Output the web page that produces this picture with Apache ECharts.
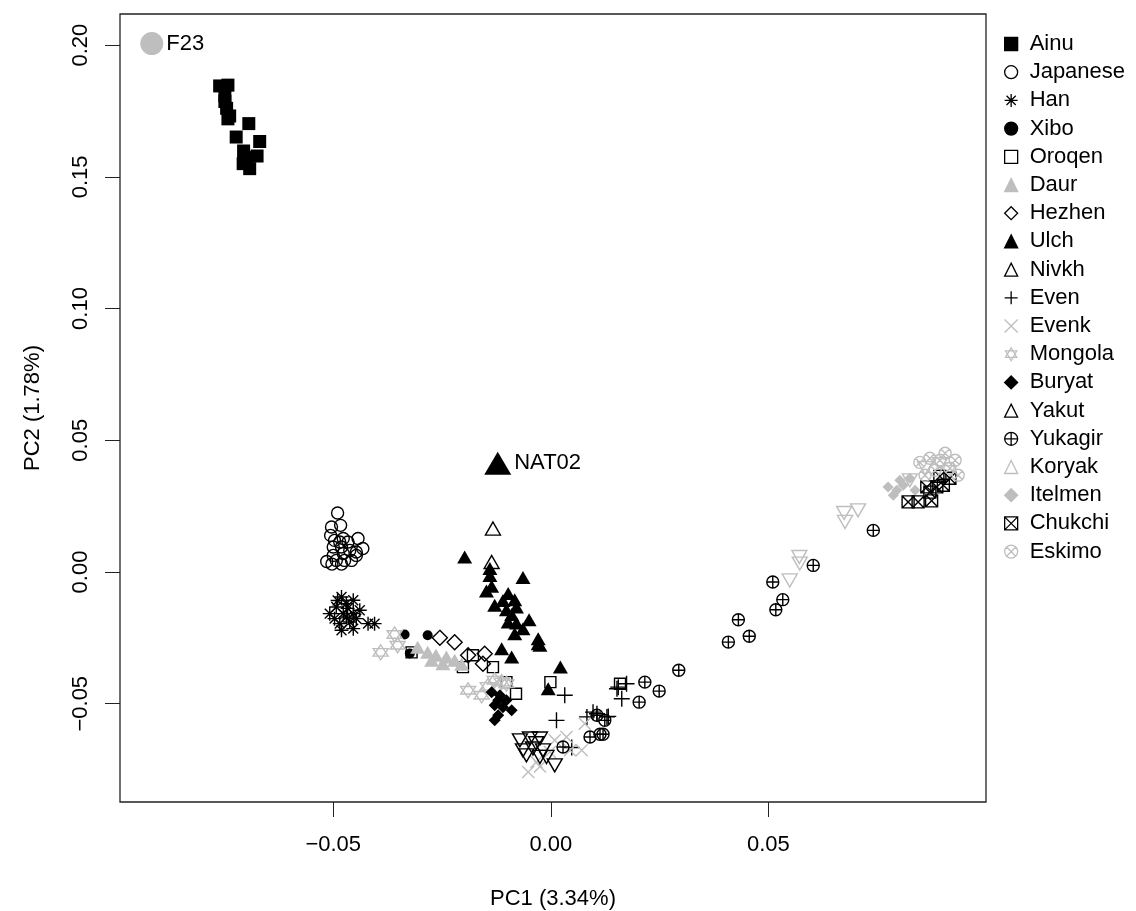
<!DOCTYPE html>
<html>
<head>
<meta charset="utf-8">
<title>PCA</title>
<script src="https://cdn.jsdelivr.net/npm/echarts@6.0.0/dist/echarts.min.js"></script>
<style>
  html, body { margin: 0; padding: 0; background: #fff; }
  #pca { width: 1136px; height: 911px; }
</style>
</head>
<body>
<div id="pca"></div>
<script>
// PC1 / PC2 per population
var ainu = [[-0.0761,0.1845],[-0.0742,0.1848],[-0.0749,0.1807],[-0.0749,0.1786],[-0.0745,0.1760],[-0.0738,0.1731],[-0.0742,0.1720],[-0.0694,0.1702],[-0.0723,0.1651],[-0.0669,0.1634],[-0.0706,0.1598],[-0.0703,0.1573],[-0.0675,0.1579],[-0.0707,0.1550],[-0.0692,0.1531],[-0.0700,0.1560]];
var japanese = [[-0.0490,0.0224],[-0.0504,0.0171],[-0.0483,0.0177],[-0.0506,0.0139],[-0.0497,0.0120],[-0.0477,0.0127],[-0.0443,0.0127],[-0.0432,0.0089],[-0.0447,0.0076],[-0.0462,0.0082],[-0.0481,0.0095],[-0.0500,0.0095],[-0.0515,0.0040],[-0.0493,0.0044],[-0.0474,0.0044],[-0.0458,0.0044],[-0.0447,0.0063],[-0.0500,0.0063],[-0.0477,0.0070],[-0.0466,0.0114],[-0.0485,0.0114],[-0.0503,0.0030],[-0.0481,0.0030]];
var han = [[-0.0481,-0.0095],[-0.0508,-0.0158],[-0.0493,-0.0133],[-0.0470,-0.0120],[-0.0454,-0.0107],[-0.0477,-0.0158],[-0.0454,-0.0158],[-0.0439,-0.0145],[-0.0485,-0.0196],[-0.0462,-0.0190],[-0.0481,-0.0221],[-0.0454,-0.0215],[-0.0420,-0.0196],[-0.0405,-0.0196],[-0.0447,-0.0177],[-0.0497,-0.0177],[-0.0470,-0.0171],[-0.0490,-0.0108],[-0.0467,-0.0138]];
var xibo = [[-0.0336,-0.0237],[-0.0283,-0.0240],[-0.0324,-0.0309]];
var oroqen = [[-0.0320,-0.0305],[-0.0202,-0.0361],[-0.0179,-0.0316],[-0.0133,-0.0361],[-0.0102,-0.0418],[-0.0080,-0.0462],[-0.0001,-0.0418],[0.0159,-0.0424]];
var daur = [[-0.0306,-0.0286],[-0.0283,-0.0305],[-0.0264,-0.0316],[-0.0240,-0.0323],[-0.0221,-0.0335],[-0.0248,-0.0348],[-0.0274,-0.0335],[-0.0205,-0.0350]];
var hezhen = [[-0.0255,-0.0250],[-0.0221,-0.0267],[-0.0190,-0.0316],[-0.0152,-0.0310],[-0.0156,-0.0348]];
var ulch = [[-0.0198,0.0057],[-0.0140,0.0013],[-0.0140,-0.0013],[-0.0064,-0.0021],[-0.0148,-0.0072],[-0.0136,-0.0054],[-0.0098,-0.0082],[-0.0083,-0.0105],[-0.0110,-0.0108],[-0.0129,-0.0126],[-0.0102,-0.0143],[-0.0079,-0.0133],[-0.0090,-0.0161],[-0.0098,-0.0190],[-0.0079,-0.0194],[-0.0050,-0.0181],[-0.0083,-0.0234],[-0.0064,-0.0215],[-0.0029,-0.0253],[-0.0025,-0.0278],[-0.0113,-0.0291],[-0.0090,-0.0323],[-0.0029,-0.0272],[0.0022,-0.0361],[-0.0006,-0.0443]];
var nivkh = [[-0.0133,0.0165],[-0.0136,0.0038]];
var even = [[0.0032,-0.0468],[0.0013,-0.0563],[0.0155,-0.0437],[0.0174,-0.0424],[0.0163,-0.0481],[0.0083,-0.0550],[0.0106,-0.0538],[0.0129,-0.0550],[0.0048,-0.0666],[0.0152,-0.0443],[0.0097,-0.0532],[0.0132,-0.0548]];
var evenk = [[-0.0052,-0.0759],[-0.0033,-0.0721],[0.0009,-0.0639],[0.0036,-0.0626],[0.0078,-0.0576],[-0.0002,-0.0683],[0.0044,-0.0677],[0.0071,-0.0677],[-0.0025,-0.0738]];
var mongola = [[-0.0391,-0.0305],[-0.0359,-0.0237],[-0.0352,-0.0278],[-0.0190,-0.0449],[-0.0159,-0.0468],[-0.0129,-0.0411],[-0.0113,-0.0418],[-0.0102,-0.0424],[-0.0145,-0.0434]];
var buryat = [[-0.0136,-0.0456],[-0.0121,-0.0487],[-0.0129,-0.0506],[-0.0110,-0.0513],[-0.0090,-0.0525],[-0.0121,-0.0544],[-0.0129,-0.0563],[-0.0102,-0.0487],[-0.0117,-0.0468]];
var yakut = [[-0.0071,-0.0639],[-0.0048,-0.0632],[-0.0025,-0.0632],[-0.0064,-0.0677],[-0.0041,-0.0670],[-0.0018,-0.0677],[-0.0056,-0.0696],[-0.0025,-0.0702],[-0.0010,-0.0702],[0.0009,-0.0734],[-0.0034,-0.0650]];
var yukagir = [[0.0106,-0.0544],[0.0124,-0.0563],[0.0090,-0.0626],[0.0113,-0.0616],[0.0120,-0.0616],[0.0028,-0.0664],[0.0203,-0.0494],[0.0216,-0.0418],[0.0249,-0.0452],[0.0294,-0.0373],[0.0408,-0.0266],[0.0456,-0.0244],[0.0431,-0.0181],[0.0517,-0.0143],[0.0533,-0.0105],[0.0510,-0.0038],[0.0603,0.0025],[0.0741,0.0158]];
var koryak = [[0.0549,-0.0032],[0.0571,0.0057],[0.0572,0.0032],[0.0674,0.0224],[0.0676,0.0190],[0.0706,0.0234],[0.0825,0.0348],[0.0860,0.0394],[0.0894,0.0409],[0.0913,0.0379]];
var itelmen = [[0.0775,0.0323],[0.0795,0.0310],[0.0810,0.0329],[0.0787,0.0291],[0.0825,0.0356],[0.0802,0.0348],[0.0837,0.0310]];
var chukchi = [[0.0821,0.0266],[0.0844,0.0266],[0.0875,0.0270],[0.0864,0.0323],[0.0887,0.0323],[0.0902,0.0329],[0.0871,0.0303],[0.0917,0.0356],[0.0894,0.0363]];
var eskimo = [[0.0848,0.0416],[0.0871,0.0432],[0.0906,0.0451],[0.0929,0.0424],[0.0883,0.0386],[0.0917,0.0394],[0.0936,0.0367],[0.0860,0.0367],[0.0894,0.0424]];
var f23 = [[-0.0917,0.2006]];
var nat02 = [[-0.0122,0.0413]];

var groups = ['Ainu','Japanese','Han','Xibo','Oroqen','Daur','Hezhen','Ulch','Nivkh','Even','Evenk','Mongola','Buryat','Yakut','Yukagir','Koryak','Itelmen','Chukchi','Eskimo'];
var groupData = [ainu, japanese, han, xibo, oroqen, daur, hezhen, ulch, nivkh, even, evenk, mongola, buryat, yakut, yukagir, koryak, itelmen, chukchi, eskimo];
var xTicks = [-0.05, 0, 0.05];
var yTicks = [-0.05, 0, 0.05, 0.10, 0.15, 0.20];

var GRAY = '#bebebe';
var FONT = '"Liberation Sans", Arial, sans-serif';

// R-style plotting characters
var P_STAR = 'path://M10 0L10 20M0 10L20 10M2.93 2.93L17.07 17.07M17.07 2.93L2.93 17.07';
var P_PLUS = 'path://M10 0L10 20M0 10L20 10';
var P_X = 'path://M0 0L20 20M20 0L0 20';
var P_DAVID = 'path://M10 0L18.66 15L1.34 15ZM10 20L1.34 5L18.66 5Z';
var P_OPLUS = 'path://M0 10A10 10 0 1 1 20 10A10 10 0 1 1 0 10ZM10 0L10 20M0 10L20 10';
var P_SQX = 'path://M0 0L20 0L20 20L0 20ZM0 0L20 20M20 0L0 20';
var P_OX = 'path://M0 10A10 10 0 1 1 20 10A10 10 0 1 1 0 10ZM2.93 2.93L17.07 17.07M17.07 2.93L2.93 17.07';

var marks = {
  Ainu:     { symbol: 'rect', size: 13, color: '#000', fill: true },
  Japanese: { symbol: 'circle', size: 12, color: '#000' },
  Han:      { symbol: P_STAR, size: 14, color: '#000' },
  Xibo:     { symbol: 'circle', size: 10, color: '#000', fill: true },
  Oroqen:   { symbol: 'rect', size: 11, color: '#000' },
  Daur:     { symbol: 'triangle', size: [15, 13], color: GRAY, fill: true },
  Hezhen:   { symbol: 'diamond', size: 15, color: '#000' },
  Ulch:     { symbol: 'triangle', size: [15, 13], color: '#000', fill: true },
  Nivkh:    { symbol: 'triangle', size: [15, 13], color: '#000' },
  Even:     { symbol: P_PLUS, size: 16, color: '#000' },
  Evenk:    { symbol: P_X, size: 12, color: GRAY },
  Mongola:  { symbol: P_DAVID, size: 15, color: GRAY },
  Buryat:   { symbol: 'diamond', size: 12, color: '#000', fill: true },
  Yakut:    { symbol: 'triangle', size: [15, 13], color: '#000', rotate: 180 },
  Yukagir:  { symbol: P_OPLUS, size: 12, color: '#000' },
  Koryak:   { symbol: 'triangle', size: [15, 13], color: GRAY, rotate: 180 },
  Itelmen:  { symbol: 'diamond', size: 11, color: GRAY, fill: true },
  Chukchi:  { symbol: P_SQX, size: 12, color: '#000' },
  Eskimo:   { symbol: P_OX, size: 12, color: GRAY }
};

function fmt(v) {
  return v.toFixed(2).replace('-', '\u2212');
}

var series = groups.map(function (name, i) {
  var m = marks[name];
  return {
    name: name,
    type: 'scatter',
    data: groupData[i],
    symbol: m.symbol,
    symbolSize: m.size,
    symbolRotate: m.rotate || 0,
    itemStyle: m.fill
      ? { color: m.color, borderColor: m.color, borderWidth: 0, opacity: 1 }
      : { color: 'transparent', borderColor: m.color, borderWidth: 1.4, opacity: 1 },
    emphasis: { disabled: true }
  };
});

var pointLabel = { show: true, position: 'right', distance: 3, formatter: '{b}', fontSize: 22, color: '#000', fontFamily: FONT };
series.push({
  name: 'F23', type: 'scatter', symbol: 'circle', symbolSize: 23,
  data: f23.map(function (p) { return { name: 'F23', value: p }; }),
  itemStyle: { color: GRAY, opacity: 1 }, label: pointLabel, emphasis: { disabled: true }
});
series.push({
  name: 'NAT02', type: 'scatter', symbol: 'triangle', symbolSize: [27, 23],
  data: nat02.map(function (p) { return { name: 'NAT02', value: p }; }),
  itemStyle: { color: '#000', opacity: 1 }, label: pointLabel, emphasis: { disabled: true }
});

var chart = echarts.init(document.getElementById('pca'));
chart.setOption({
  animation: false,
  backgroundColor: '#fff',
  textStyle: { fontFamily: FONT },
  grid: { left: 120, right: 150, top: 14, bottom: 109, outerBoundsMode: 'none', containLabel: false, show: true, borderColor: '#222', borderWidth: 1.3, backgroundColor: 'transparent' },
  legend: {
    data: groups,
    orient: 'vertical',
    left: 999,
    top: 28,
    itemWidth: 13,
    itemHeight: 13,
    itemGap: 6.2,
    selectedMode: false,
    itemStyle: { borderWidth: 1.3 },
    textStyle: { fontSize: 22, color: '#000', fontFamily: FONT, lineHeight: 22, padding: [0, 0, 0, 7] }
  },
  xAxis: {
    type: 'value',
    min: -0.099,
    max: 0.100,
    name: 'PC1 (3.34%)',
    nameLocation: 'middle',
    nameGap: 86,
    nameTextStyle: { fontSize: 22, color: '#000', fontFamily: FONT },
    axisLine: { show: false, onZero: false },
    splitLine: { show: false },
    axisTick: { show: true, length: 15, customValues: xTicks, lineStyle: { color: '#222', width: 1 } },
    axisLabel: { customValues: xTicks, margin: 32, fontSize: 22, color: '#000', formatter: fmt }
  },
  yAxis: {
    type: 'value',
    min: -0.0873,
    max: 0.2118,
    name: 'PC2 (1.78%)',
    nameLocation: 'middle',
    nameGap: 76,
    nameTextStyle: { fontSize: 22, color: '#000', fontFamily: FONT },
    axisLine: { show: false, onZero: false },
    splitLine: { show: false },
    axisTick: { show: true, length: 15, customValues: yTicks, lineStyle: { color: '#222', width: 1 } },
    axisLabel: { customValues: yTicks, margin: 28, rotate: 90, fontSize: 22, color: '#000', formatter: fmt }
  },
  series: series
});
</script>
</body>
</html>
